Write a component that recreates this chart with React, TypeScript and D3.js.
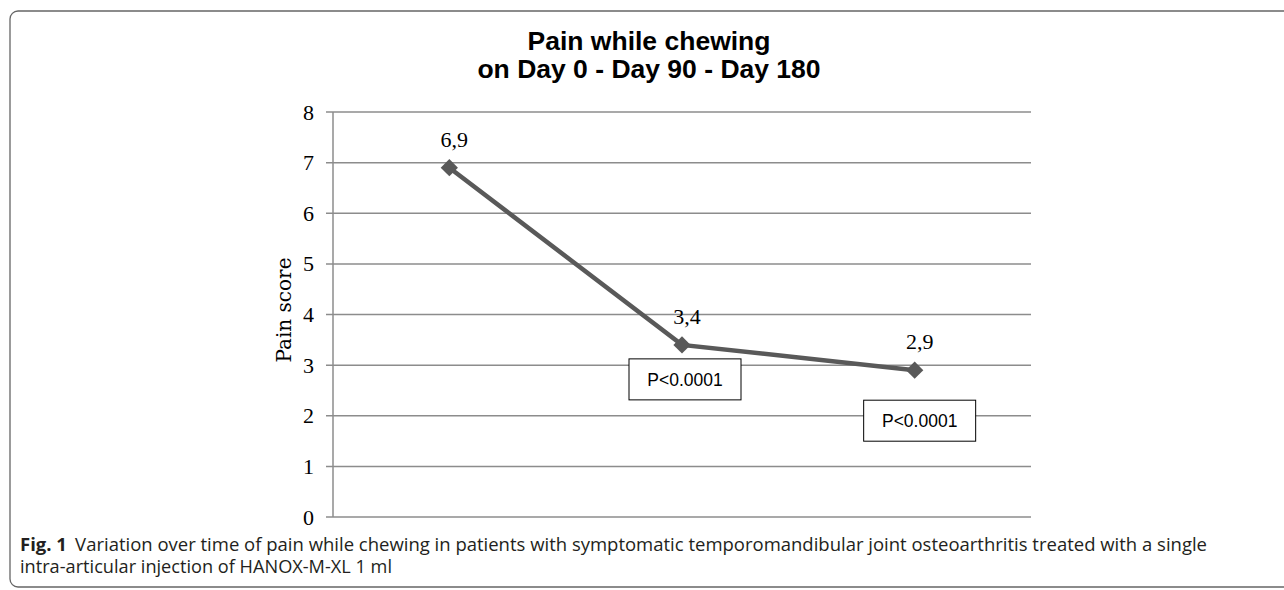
import React from "react";
import * as d3 from "d3";

// chart values
const categories = ["Day 0", "Day 90", "Day 180"];
const painScores = [6.9, 3.4, 2.9];
const valueLabels = ["6,9", "3,4", "2,9"];
const yTicks = [0, 1, 2, 3, 4, 5, 6, 7, 8];
const pLabels = ["P<0.0001", "P<0.0001"];
const titleLines = ["Pain while chewing", "on Day 0 - Day 90 - Day 180"];
const captionLines = [
  "Variation over time of pain while chewing in patients with symptomatic temporomandibular joint osteoarthritis treated with a single",
  "intra-articular injection of HANOX-M-XL 1 ml",
];

const W = 1284;
const H = 590;
const plot = { left: 333, right: 1031, top: 112, bottom: 517 };
const serif = "'Liberation Serif', 'DejaVu Serif', serif";
const sans = "'Liberation Sans', Arial, sans-serif";
const captionFont = "'Open Sans', 'Noto Sans', sans-serif";

const App = () => {
  const x = d3
    .scaleBand()
    .domain(categories)
    .range([plot.left, plot.right]);
  const y = d3.scaleLinear().domain([0, 8]).range([plot.bottom, plot.top]);
  const cx = (i) => x(categories[i]) + x.bandwidth() / 2;

  const line = d3
    .line()
    .x((d, i) => cx(i))
    .y((d) => y(d));

  const diamond = d3.symbol().type(d3.symbolDiamond2).size(190);

  // p-value boxes sit under the Day 90 and Day 180 points
  const boxW = 112;
  const boxH = 41;
  const boxes = [
    { i: 1, dx: 3, dy: 14 },
    { i: 2, dx: 5, dy: 30 },
  ];

  return (
    <svg
      width={W}
      height={H}
      style={{ position: "absolute", left: 0, top: 0, background: "#fff" }}
    >
      {/* frame */}
      <rect
        x={10}
        y={11}
        width={1320}
        height={576}
        rx={8}
        fill="none"
        stroke="#666"
        strokeWidth={1.3}
      />

      {/* title */}
      {titleLines.map((t, i) => (
        <text
          key={t}
          x={649}
          y={50 + i * 28}
          textAnchor="middle"
          fontFamily={sans}
          fontWeight="bold"
          fontSize={26.5}
          fill="#000"
        >
          {t}
        </text>
      ))}

      {/* grid */}
      {yTicks.map((t) => (
        <g key={t}>
          <line
            x1={plot.left - 7}
            x2={plot.right}
            y1={y(t)}
            y2={y(t)}
            stroke="#8c8c8c"
            strokeWidth={1.5}
          />
          <text
            x={314}
            y={y(t) + 7.5}
            textAnchor="end"
            fontFamily={serif}
            fontSize={22}
            fill="#000"
          >
            {t}
          </text>
        </g>
      ))}
      <line
        x1={plot.left}
        x2={plot.left}
        y1={plot.top}
        y2={plot.bottom}
        stroke="#8c8c8c"
        strokeWidth={1.5}
      />

      <text
        transform={`translate(291,310) rotate(-90)`}
        textAnchor="middle"
        fontFamily="'DejaVu Serif', serif"
        fontSize={20}
        fill="#000"
      >
        Pain score
      </text>

      {/* series */}
      <path
        d={line(painScores)}
        fill="none"
        stroke="#595959"
        strokeWidth={4.5}
      />
      {painScores.map((v, i) => (
        <path
          key={i}
          d={diamond()}
          transform={`translate(${cx(i)},${y(v)})`}
          fill="#595959"
        />
      ))}
      {painScores.map((v, i) => (
        <text
          key={i}
          x={cx(i) + 5}
          y={y(v) - 21}
          textAnchor="middle"
          fontFamily={serif}
          fontSize={22}
          fill="#000"
        >
          {valueLabels[i]}
        </text>
      ))}

      {/* p-value boxes */}
      {boxes.map((b, k) => {
        const bx = cx(b.i) + b.dx - boxW / 2;
        const by = y(painScores[b.i]) + b.dy;
        return (
          <g key={k}>
            <rect
              x={bx}
              y={by}
              width={boxW}
              height={boxH}
              fill="#fff"
              stroke="#000"
              strokeWidth={1}
            />
            <text
              x={bx + boxW / 2}
              y={by + boxH / 2 + 6.5}
              textAnchor="middle"
              fontFamily={sans}
              fontSize={17.5}
              fill="#000"
            >
              {pLabels[k]}
            </text>
          </g>
        );
      })}

      {/* caption */}
      <text
        x={20}
        y={551}
        fontFamily={captionFont}
        fontSize={18}
        fill="#231f20"
        textLength={1187}
        lengthAdjust="spacingAndGlyphs"
      >
        <tspan fontWeight="bold">Fig. 1</tspan>
        <tspan dx={8}>{captionLines[0]}</tspan>
      </text>
      <text
        x={20}
        y={573}
        fontFamily={captionFont}
        fontSize={18}
        fill="#231f20"
        textLength={372}
        lengthAdjust="spacingAndGlyphs"
      >
        {captionLines[1]}
      </text>
    </svg>
  );
};

export default App;
